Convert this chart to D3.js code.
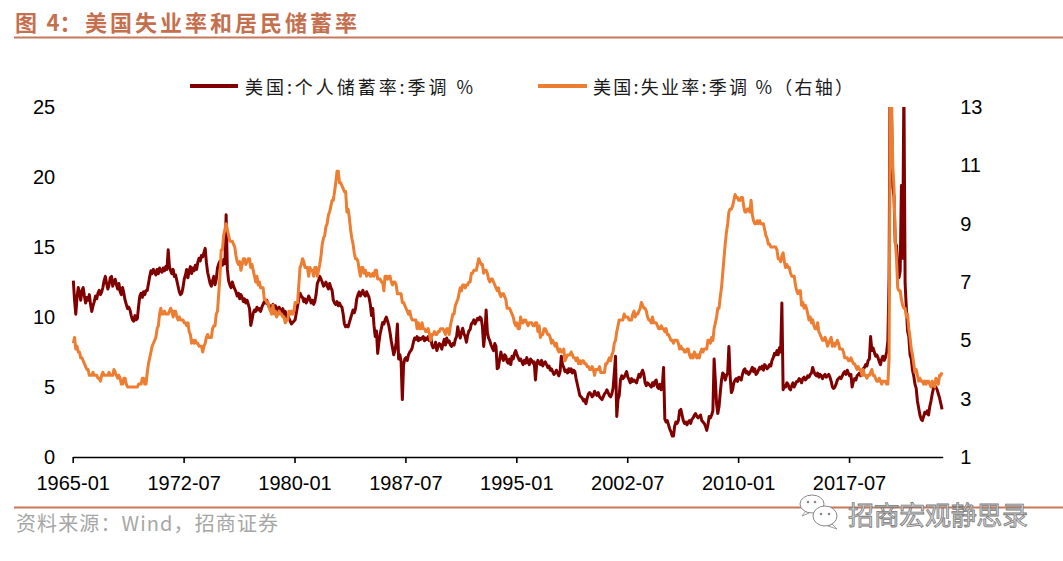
<!DOCTYPE html>
<html><head><meta charset="utf-8">
<script src="https://cdn.jsdelivr.net/npm/d3@7"></script>
<style>html,body{margin:0;padding:0;background:#fff}svg{display:block}</style>
</head><body>
<svg id="chart" width="1063" height="561"></svg>
<script>
// ---------- data ----------
const titleText = ["图", "4：", "美国失业率和居民储蓄率"];
const sourceText = "资料来源：Wind，招商证券";
const watermarkText = "招商宏观静思录";
const seriesNames = ["美国:个人储蓄率:季调 %", "美国:失业率:季调 %（右轴）"];
const tickLabels = ["1965-01","1972-07","1980-01","1987-07","1995-01","2002-07","2010-01","2017-07"];
const leftTicks = [0,5,10,15,20,25];
const rightTicks = [1,3,5,7,9,11,13];

// US personal saving rate, SA, %, monthly from 1965-01
const savingRate = [
12.6,11.2,10.2,11.4,12.1,11.7,11.2,11.9,12.1,11.5,11.0,11.4,
11.2,11.6,10.9,10.4,10.8,11.1,11.5,11.3,11.7,11.9,11.6,11.8,
12.1,12.6,12.9,12.4,12.0,12.3,12.8,12.9,12.2,12.5,12.7,12.3,
12.0,12.4,11.8,11.6,12.1,11.7,11.2,10.9,10.6,10.7,10.5,10.1,
9.8,9.7,10.1,9.8,9.9,10.8,11.5,11.7,11.4,11.8,11.6,11.9,
11.9,12.4,12.9,13.3,13.1,13.4,13.2,13.0,13.4,13.1,13.5,13.3,
13.2,13.5,13.3,13.6,13.4,14.8,13.6,13.3,13.1,13.4,12.9,13.0,
12.6,12.2,11.8,11.6,11.7,12.1,12.7,13.0,13.4,12.8,13.3,13.6,
13.1,13.5,13.3,13.7,13.4,13.9,14.2,14.0,14.4,14.3,14.6,14.9,
13.9,13.2,12.8,12.4,12.2,12.6,12.9,12.3,12.7,13.5,13.8,14.0,
13.9,13.7,14.1,13.8,17.3,13.4,12.6,12.3,12.1,12.5,12.2,12.0,
11.8,11.5,11.7,11.3,11.6,11.4,11.1,11.3,11.0,11.2,10.9,10.6,
9.4,9.8,10.3,10.5,10.4,10.7,10.5,10.6,10.4,10.7,10.9,11.1,
11.0,11.2,10.9,10.7,10.8,10.6,10.9,10.5,10.8,10.6,10.4,10.7,
10.5,10.3,10.6,10.2,10.4,10.0,10.1,9.9,9.7,9.5,9.6,9.7,
9.8,10.3,10.8,11.3,11.7,11.5,11.4,11.1,11.3,11.0,11.2,11.5,
11.3,11.0,11.2,10.9,11.1,11.6,12.4,12.6,12.9,12.7,12.5,12.2,
12.3,12.5,12.2,12.0,12.4,12.1,11.9,11.2,11.0,10.9,11.1,10.8,
11.0,10.8,10.7,10.2,9.5,9.3,9.4,9.3,9.6,9.9,10.2,10.5,
10.3,10.6,11.3,11.6,11.8,11.5,11.7,11.9,11.6,11.5,11.8,11.6,
11.4,10.9,10.1,10.6,9.4,8.6,9.0,7.4,8.2,8.8,9.2,9.6,
9.5,9.8,10.0,9.7,9.4,8.9,8.3,7.8,7.3,7.6,8.2,9.5,
7.0,7.3,6.8,4.1,6.6,7.0,7.1,6.9,7.3,7.5,7.6,7.8,
8.2,8.5,8.4,8.6,8.3,8.5,8.4,8.5,8.6,8.3,8.5,8.4,
8.6,8.3,8.7,8.0,7.8,7.9,8.2,7.6,7.9,8.1,8.0,7.7,
8.1,8.4,8.0,8.5,8.2,8.3,8.0,7.9,8.1,8.0,8.4,8.6,
9.3,8.8,8.5,8.9,9.2,8.8,8.6,8.2,8.7,9.0,9.1,9.5,
9.6,9.8,9.5,9.7,9.9,9.8,10.0,9.9,9.3,7.9,8.8,10.5,
8.9,8.5,8.3,8.0,7.8,7.6,8.1,7.9,6.3,6.4,7.0,7.5,
7.1,6.9,7.3,7.2,6.8,6.7,7.0,6.6,7.2,7.0,7.4,7.6,
7.3,7.1,6.9,7.0,6.8,6.6,6.9,6.7,7.1,6.8,6.6,7.0,
6.9,6.7,6.8,5.5,6.6,6.9,6.7,6.6,6.9,6.5,6.7,6.8,
6.6,6.4,6.5,6.2,6.3,6.1,5.9,6.0,6.2,6.0,5.8,6.1,
7.2,6.6,6.4,6.1,6.2,6.0,6.3,6.1,6.3,6.0,6.2,6.1,
5.6,5.2,4.8,4.4,4.3,4.2,4.0,4.1,3.8,4.2,4.5,4.6,
4.5,4.3,4.4,4.7,4.5,4.4,4.6,4.3,4.2,4.1,4.3,4.5,
4.6,4.8,4.6,4.4,4.3,4.5,4.9,6.0,7.2,2.9,4.1,4.4,
5.5,5.8,5.6,5.7,5.9,6.1,5.7,5.5,5.3,5.6,5.4,5.5,
5.4,5.3,5.6,5.9,5.7,6.0,6.2,5.9,5.3,5.1,5.3,5.2,
5.1,5.0,5.3,5.1,5.4,5.5,5.0,4.9,5.2,4.8,5.1,6.4,
2.7,2.5,2.6,2.3,2.0,1.8,1.5,1.5,2.2,2.5,2.4,2.6,
3.3,3.4,3.0,2.6,2.4,2.5,2.3,2.5,2.6,2.4,2.7,2.8,
3.0,3.1,2.9,2.8,2.9,3.0,2.6,2.5,2.4,2.2,1.9,2.3,
2.9,2.8,3.0,3.3,7.0,5.5,3.8,3.1,3.6,4.6,5.5,6.0,
5.9,5.5,5.8,6.0,7.9,5.8,4.6,4.8,5.3,5.5,5.6,5.4,
5.7,5.6,5.5,5.9,6.2,6.3,6.0,6.1,5.9,6.0,6.2,6.4,
6.1,6.3,5.9,6.0,6.2,6.4,6.3,6.5,6.2,6.6,6.5,6.3,
6.4,6.6,6.5,6.9,7.1,7.4,7.3,7.6,7.3,7.8,7.5,11.0,
4.8,5.1,5.0,5.3,5.2,4.9,4.8,5.1,5.3,5.0,5.2,5.4,
5.4,5.6,5.5,5.3,5.6,5.7,5.5,5.6,5.8,5.7,5.9,6.0,
6.4,6.1,5.9,5.8,6.0,5.7,5.9,5.8,5.6,5.8,5.9,5.7,
5.8,5.9,5.7,5.4,5.0,4.9,5.0,5.2,5.5,5.6,5.7,5.6,
5.8,6.0,6.1,5.9,6.2,6.0,5.8,5.9,5.0,5.4,5.6,5.5,
5.8,5.9,6.0,5.8,5.9,6.3,6.4,6.6,6.5,6.9,7.0,8.6,
7.6,7.8,7.5,7.2,7.3,7.1,6.8,6.6,7.0,7.2,6.9,7.1,
7.5,8.3,12.9,32.0,24.2,19.3,18.6,15.3,15.1,13.6,12.8,13.3,
19.4,14.2,26.6,12.4,10.6,9.0,8.6,7.3,7.0,6.2,5.8,5.2,
4.9,4.0,3.5,3.0,2.7,2.6,2.9,3.2,3.1,3.3,3.0,3.6,
4.0,4.5,4.9,5.1,5.0,4.8,4.5,4.2,3.8,3.4
];

// US unemployment rate, SA, %, monthly from 1965-01
const unemploymentRate = [
4.9,5.1,4.7,4.8,4.6,4.6,4.4,4.4,4.3,4.2,4.1,4.0,
4.0,3.8,3.8,3.8,3.9,3.8,3.8,3.8,3.7,3.7,3.6,3.8,
3.9,3.8,3.8,3.8,3.8,3.9,3.8,3.8,3.8,4.0,3.9,3.8,
3.7,3.8,3.7,3.5,3.5,3.7,3.7,3.5,3.4,3.4,3.4,3.4,
3.4,3.4,3.4,3.4,3.4,3.5,3.5,3.5,3.7,3.7,3.5,3.5,
3.9,4.2,4.4,4.6,4.8,4.9,5.0,5.1,5.4,5.5,5.9,6.1,
5.9,5.9,6.0,5.9,5.9,5.9,6.0,6.1,6.0,5.8,6.0,6.0,
5.8,5.7,5.8,5.7,5.7,5.7,5.6,5.6,5.5,5.6,5.3,5.2,
4.9,5.0,4.9,5.0,4.9,4.9,4.8,4.8,4.8,4.6,4.8,4.9,
5.1,5.2,5.1,5.1,5.1,5.4,5.5,5.5,5.9,6.0,6.6,7.2,
8.1,8.1,8.6,8.8,9.0,8.8,8.6,8.4,8.4,8.4,8.3,8.2,
7.9,7.7,7.6,7.7,7.4,7.6,7.8,7.8,7.6,7.7,7.8,7.8,
7.5,7.6,7.4,7.2,7.0,7.2,6.9,7.0,6.8,6.8,6.8,6.4,
6.4,6.3,6.3,6.1,6.0,5.9,6.2,5.9,6.0,5.8,5.9,6.0,
5.9,5.9,5.8,5.8,5.6,5.7,5.7,6.0,5.9,6.0,5.9,6.0,
6.3,6.3,6.3,6.9,7.5,7.6,7.8,7.7,7.5,7.5,7.5,7.2,
7.5,7.4,7.4,7.2,7.5,7.5,7.2,7.4,7.6,7.9,8.3,8.5,
8.6,8.9,9.0,9.3,9.4,9.6,9.8,9.8,10.1,10.4,10.8,10.8,
10.4,10.4,10.3,10.2,10.1,10.1,9.4,9.5,9.2,8.8,8.5,8.3,
8.0,7.8,7.8,7.7,7.4,7.2,7.5,7.5,7.3,7.4,7.2,7.3,
7.3,7.2,7.2,7.3,7.2,7.4,7.4,7.1,7.1,7.1,7.0,7.0,
6.7,7.2,7.2,7.1,7.2,7.2,7.0,6.9,7.0,7.0,6.9,6.6,
6.6,6.6,6.6,6.3,6.3,6.2,6.1,6.0,5.9,6.0,5.8,5.7,
5.7,5.7,5.7,5.4,5.6,5.4,5.4,5.6,5.4,5.4,5.3,5.3,
5.4,5.2,5.0,5.2,5.2,5.3,5.2,5.2,5.3,5.3,5.4,5.4,
5.4,5.3,5.2,5.4,5.4,5.2,5.5,5.7,5.9,5.9,6.2,6.3,
6.4,6.6,6.8,6.7,6.9,6.9,6.8,6.9,6.9,7.0,7.0,7.3,
7.3,7.4,7.4,7.4,7.6,7.8,7.7,7.6,7.6,7.3,7.4,7.4,
7.3,7.1,7.0,7.1,7.1,7.0,6.9,6.8,6.7,6.8,6.6,6.5,
6.6,6.6,6.5,6.4,6.1,6.1,6.1,6.0,5.9,5.8,5.6,5.5,
5.6,5.4,5.4,5.8,5.6,5.6,5.7,5.7,5.6,5.5,5.6,5.6,
5.6,5.5,5.5,5.6,5.6,5.3,5.5,5.1,5.2,5.2,5.4,5.4,
5.3,5.2,5.2,5.1,4.9,5.0,4.9,4.8,4.9,4.7,4.6,4.7,
4.6,4.6,4.7,4.3,4.4,4.5,4.5,4.5,4.6,4.5,4.4,4.4,
4.3,4.4,4.2,4.3,4.2,4.3,4.3,4.2,4.2,4.1,4.1,4.0,
4.0,4.1,4.0,3.8,4.0,4.0,4.0,4.1,3.9,3.9,3.9,3.9,
4.2,4.2,4.3,4.4,4.3,4.5,4.6,4.9,5.0,5.3,5.5,5.7,
5.7,5.7,5.7,5.9,5.8,5.8,5.8,5.7,5.7,5.7,5.9,6.0,
5.8,5.9,5.9,6.0,6.1,6.3,6.2,6.1,6.1,6.0,5.8,5.7,
5.7,5.6,5.8,5.6,5.6,5.6,5.5,5.4,5.4,5.5,5.4,5.4,
5.3,5.4,5.2,5.2,5.1,5.0,5.0,4.9,5.0,5.0,5.0,4.9,
4.7,4.8,4.7,4.7,4.6,4.6,4.7,4.7,4.5,4.4,4.5,4.4,
4.6,4.5,4.4,4.5,4.4,4.6,4.7,4.6,4.7,4.7,4.7,5.0,
5.0,4.9,5.1,5.0,5.4,5.6,5.8,6.1,6.1,6.5,6.8,7.3,
7.8,8.3,8.7,9.0,9.4,9.5,9.5,9.6,9.8,10.0,9.9,9.9,
9.8,9.8,9.9,9.9,9.6,9.4,9.4,9.5,9.5,9.4,9.8,9.3,
9.1,9.0,9.0,9.1,9.0,9.1,9.0,9.0,9.0,8.8,8.6,8.5,
8.3,8.3,8.2,8.2,8.2,8.2,8.2,8.1,7.8,7.8,7.7,7.9,
8.0,7.7,7.5,7.6,7.5,7.5,7.3,7.2,7.2,7.2,6.9,6.7,
6.6,6.7,6.7,6.2,6.3,6.1,6.2,6.1,5.9,5.7,5.8,5.6,
5.7,5.5,5.4,5.4,5.6,5.3,5.2,5.1,5.0,5.0,5.1,5.0,
4.8,4.9,5.0,5.1,4.8,4.9,4.8,4.9,5.0,4.9,4.7,4.7,
4.7,4.6,4.4,4.4,4.4,4.3,4.3,4.4,4.3,4.2,4.2,4.1,
4.0,4.1,4.0,4.0,3.8,4.0,3.8,3.8,3.7,3.8,3.8,3.9,
4.0,3.8,3.8,3.7,3.6,3.6,3.7,3.6,3.5,3.6,3.6,3.6,
3.5,3.5,4.4,14.7,13.2,11.0,10.2,8.4,7.8,6.8,6.7,6.7,
6.4,6.2,6.1,6.1,5.8,5.9,5.4,5.1,4.7,4.5,4.2,3.9,
4.0,3.8,3.6,3.7,3.6,3.6,3.5,3.6,3.5,3.6,3.6,3.5,
3.4,3.6,3.5,3.4,3.7,3.6,3.5,3.8,3.8,3.9
];

// monthly categories 1965-01 ... (one per data point)
const categories = savingRate.map((_, i) => {
  const y = 1965 + Math.floor(i / 12), m = (i % 12) + 1;
  return y + "-" + String(m).padStart(2, "0");
});

// ---------- drawing ----------
const svg = d3.select("#chart");
const W = 1063;
const plot = {left: 72.7, right: 942.7, top: 107, bottom: 457};
const accent = "#C8785A";
const colSave = "#800000";
const colUnemp = "#ED7D31";
const numFont = "'Liberation Sans', Arial, sans-serif";
const cjkFont = "'Noto Sans CJK SC', 'Noto Sans', sans-serif";

svg.append("rect").attr("width", W).attr("height", 561).attr("fill", "#fff");

// title
const titleStyle = t => t.attr("font-family", cjkFont).attr("font-weight", 700)
  .attr("font-size", 22).attr("fill", "#C4704F");
svg.append("text").attr("x", 15).attr("y", 31).call(titleStyle).text(titleText[0]);
svg.append("text").attr("x", 46.5).attr("y", 31).call(titleStyle).text(titleText[1]);
svg.append("text").attr("x", 85).attr("y", 31).call(titleStyle)
  .attr("textLength", 272).attr("lengthAdjust", "spacing").text(titleText[2]);
svg.append("line").attr("x1", 14).attr("x2", W).attr("y1", 37.5).attr("y2", 37.5)
  .attr("stroke", accent).attr("stroke-width", 2);

// scales
const x = d3.scaleLinear().domain([0, categories.length]).range([plot.left, plot.right]);
const yL = d3.scaleLinear().domain([0, 25]).range([plot.bottom, plot.top]);
const yR = d3.scaleLinear().domain([1, 13]).range([plot.bottom, plot.top]);

// clip
svg.append("defs").append("clipPath").attr("id", "plotclip")
  .append("rect").attr("x", plot.left - 5).attr("y", plot.top)
  .attr("width", plot.right - plot.left + 10).attr("height", plot.bottom - plot.top + 5);

// lines
const lineL = d3.line().x((d, i) => x(i + 0.5)).y(d => yL(d));
const lineR = d3.line().x((d, i) => x(i + 0.5)).y(d => yR(d));
const g = svg.append("g").attr("clip-path", "url(#plotclip)");
g.append("path").datum(savingRate).attr("d", lineL)
  .attr("fill", "none").attr("stroke", colSave).attr("stroke-width", 3)
  .attr("stroke-linejoin", "round");
g.append("path").datum(unemploymentRate).attr("d", lineR)
  .attr("fill", "none").attr("stroke", colUnemp).attr("stroke-width", 3)
  .attr("stroke-linejoin", "round");

// x axis
const tickIdx = tickLabels.map(l => categories.indexOf(l));
const xAxis = d3.axisBottom(x).tickValues(tickIdx)
  .tickFormat((d, i) => tickLabels[i]).tickSize(6).tickSizeOuter(0);
const gx = svg.append("g").attr("transform", `translate(0,${plot.bottom})`).call(xAxis);
gx.select(".domain").attr("stroke", "#000").attr("stroke-width", 1.6);
gx.selectAll(".tick line").attr("stroke", "#000").attr("stroke-width", 1.6);
gx.selectAll(".tick text").attr("y", 33).attr("dy", 0)
  .attr("font-family", numFont).attr("font-size", 20).attr("fill", "#000");

// left axis
const gl = svg.append("g").attr("transform", `translate(${plot.left},0)`)
  .call(d3.axisLeft(yL).tickValues(leftTicks).tickSize(0).tickPadding(17.5));
gl.select(".domain").remove();
gl.selectAll(".tick text").attr("font-family", numFont).attr("font-size", 20).attr("fill", "#000");

// right axis
const gr = svg.append("g").attr("transform", `translate(${plot.right},0)`)
  .call(d3.axisRight(yR).tickValues(rightTicks).tickSize(0).tickPadding(17.5));
gr.select(".domain").remove();
gr.selectAll(".tick text").attr("font-family", numFont).attr("font-size", 20).attr("fill", "#000");

// legend
const legend = [
  {name: seriesNames[0], color: colSave, x1: 190, x2: 238, tx: 245, tw: 228},
  {name: seriesNames[1], color: colUnemp, x1: 538, x2: 587, tx: 593, tw: 260}
];
const lg = svg.append("g");
legend.forEach(l => {
  lg.append("line").attr("x1", l.x1).attr("x2", l.x2).attr("y1", 86).attr("y2", 86)
    .attr("stroke", l.color).attr("stroke-width", 4);
  lg.append("text").attr("x", l.tx).attr("y", 93.5)
    .attr("font-family", cjkFont).attr("font-size", 18).attr("fill", "#1a1a1a")
    .attr("textLength", l.tw).attr("lengthAdjust", "spacing").text(l.name);
});

// footer
svg.append("line").attr("x1", 14).attr("x2", W).attr("y1", 507.5).attr("y2", 507.5)
  .attr("stroke", accent).attr("stroke-width", 2);
svg.append("text").attr("x", 16).attr("y", 531)
  .attr("font-family", cjkFont).attr("font-size", 20).attr("fill", "#A6A6A6")
  .attr("textLength", 262).attr("lengthAdjust", "spacing").text(sourceText);

// watermark
const wm = svg.append("g");
wm.append("path").attr("d", "M806,511 l-4,5 l7,-3 Z").attr("fill", "#fff").attr("stroke", "#888").attr("stroke-width", 0.8);
wm.append("ellipse").attr("cx", 812).attr("cy", 504).attr("rx", 12).attr("ry", 9)
  .attr("fill", "#fff").attr("stroke", "#888").attr("stroke-width", 1);
wm.append("circle").attr("cx", 808).attr("cy", 502).attr("r", 1.3).attr("fill", "#888");
wm.append("circle").attr("cx", 815).attr("cy", 502).attr("r", 1.3).attr("fill", "#888");
wm.append("path").attr("d", "M832,524 l5,5 l-9,-3 Z").attr("fill", "#fff").attr("stroke", "#888").attr("stroke-width", 0.8);
wm.append("ellipse").attr("cx", 825).attr("cy", 516).attr("rx", 12).attr("ry", 10)
  .attr("fill", "#fff").attr("stroke", "#888").attr("stroke-width", 1);
wm.append("circle").attr("cx", 821).attr("cy", 514).attr("r", 1.3).attr("fill", "#888");
wm.append("circle").attr("cx", 829).attr("cy", 514).attr("r", 1.3).attr("fill", "#888");
wm.append("text").attr("x", 848).attr("y", 525)
  .attr("font-family", cjkFont).attr("font-size", 26).attr("fill", "#d8d8d8")
  .attr("stroke", "#7a7a7a").attr("stroke-width", 0.8)
  .attr("textLength", 180).attr("lengthAdjust", "spacing").text(watermarkText);
</script>
</body></html>
